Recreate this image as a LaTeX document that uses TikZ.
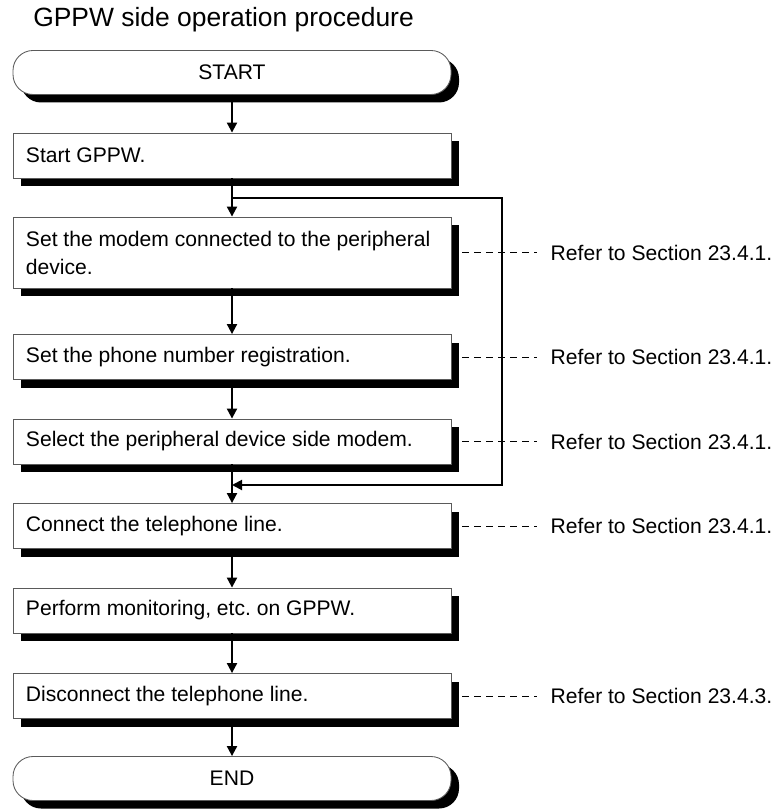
\documentclass[tikz,border=0pt]{standalone}
\usepackage{fontspec}
\setmainfont{Liberation Sans}
\usepackage{tikz}
\usetikzlibrary{arrows.meta,shadows,positioning}
\definecolor{edgeGray}{RGB}{90,90,90}
\newcommand\bodyfont{\fontsize{15}{19.9}\selectfont\frenchspacing}
\tikzset{
  procbox/.style={
    rectangle, draw=edgeGray, line width=0.6pt, fill=white,
    text width=10.3cm, inner xsep=0.325cm, minimum height=1.125cm,
    align=flush left, font=\bodyfont,
    drop shadow={shadow xshift=0.2cm,shadow yshift=-0.2cm,fill=black,opacity=1}
  },
  termbox/.style={procbox, rounded corners=0.5cm, align=center, minimum height=1.1cm},
  flowArrow/.style={-{Triangle[length=0.25cm,width=0.25cm]}, line width=1.4pt},
  refLine/.style={line width=0.6pt, dash pattern=on 0.175cm off 0.125cm}
}

\begin{document}
\begin{tikzpicture}[
    lbl/.style={font=\fontsize{18.8}{22}\selectfont, inner sep=0pt, anchor=base west},
    refnote/.style={font=\bodyfont, inner sep=0pt, inner xsep=0.325cm}
  ]
    \useasboundingbox (0,0) rectangle (19.4,-20.275);
    \node[lbl] (title) at (0.825,-0.675) {GPPW side operation procedure};

    \node[termbox] (start) at (5.8,-1.8125) {START};
    \node[procbox] (b1) at (5.8,-3.8875) {Start GPPW.};
    \node[procbox, minimum height=1.775cm] (b2) at (5.8,-6.3125)
          {Set the modem connected to the peripheral\\device.};
    \node[procbox] (b3) at (5.8,-8.925) {Set the phone number registration.};
    \node[procbox] (b4) at (5.8,-11.0375) {Select the peripheral device side modem.};
    \node[procbox] (b5) at (5.8,-13.15) {Connect the telephone line.};
    \node[procbox] (b6) at (5.8,-15.2625) {Perform monitoring, etc. on GPPW.};
    \node[procbox] (b7) at (5.8,-17.4) {Disconnect the telephone line.};
    \node[termbox] (end) at (5.8,-19.4625) {END};

    \draw[flowArrow] (start) -- (b1);
    \draw[flowArrow] (b1) -- (b2);
    \draw[flowArrow] (b2) -- (b3);
    \draw[flowArrow] (b3) -- (b4);
    \draw[flowArrow] (b4) -- (b5);
    \draw[flowArrow] (b5) -- (b6);
    \draw[flowArrow] (b6) -- (b7);
    \draw[flowArrow] (b7) -- (end);

    % return path round the modem settings
    \coordinate (loopTop) at (12.55,-4.95);
    \coordinate (loopBot) at (12.55,-12.125);
    \draw[flowArrow] (b1.south |- loopTop) -- (loopTop) -- (loopBot) -- (b4.south |- loopBot);

    \node[refnote, right=2.15cm of b2] (r2) {Refer to Section 23.4.1.};
    \node[refnote, right=2.15cm of b3] (r3) {Refer to Section 23.4.1.};
    \node[refnote, right=2.15cm of b4] (r4) {Refer to Section 23.4.1.};
    \node[refnote, right=2.15cm of b5] (r5) {Refer to Section 23.4.1.};
    \node[refnote, right=2.15cm of b7] (r7) {Refer to Section 23.4.3.};
    \draw[refLine] ([xshift=0.275cm]b2.east) -- (r2.west);
    \draw[refLine] ([xshift=0.275cm]b3.east) -- (r3.west);
    \draw[refLine] ([xshift=0.275cm]b4.east) -- (r4.west);
    \draw[refLine] ([xshift=0.275cm]b5.east) -- (r5.west);
    \draw[refLine] ([xshift=0.275cm]b7.east) -- (r7.west);
\end{tikzpicture}
\end{document}
